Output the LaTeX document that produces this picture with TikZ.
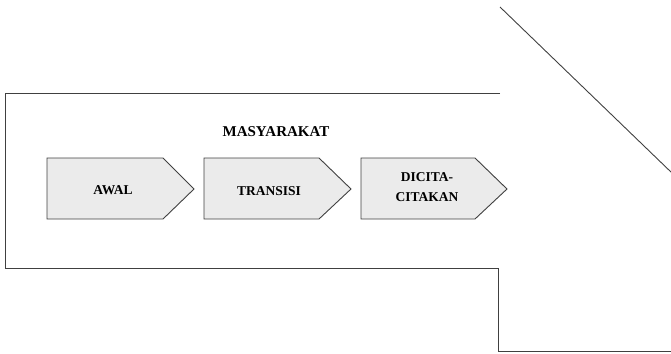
\documentclass[tikz,border=0pt]{standalone}
\usepackage{fontspec}
\setmainfont{Liberation Serif}
\begin{document}
\begin{tikzpicture}[x=1pt,y=-1pt,
  outline/.style={draw=black!75,line width=0.9pt},
  stage/.style={draw=black!75,line width=0.9pt,fill=black!8},
  label/.style={font=\bfseries\fontsize{13.5}{20}\selectfont,align=center,inner sep=0pt}]
\useasboundingbox (0,0) rectangle (671,353);
\begin{scope}
\clip (0,0) rectangle (671,353);
% large arrow frame around the community stages
\coordinate (ft) at (500,93);
\coordinate (ftl) at (5,93);
\coordinate (fbl) at (5,268);
\coordinate (fb) at (498,268);
\coordinate (fs) at (498,351);
\coordinate (fe) at (672,351);
\coordinate (hd1) at (500,7);
\coordinate (hd2) at (672,173);
\draw[outline] (ft) -- (ftl) -- (fbl) -- (fb) -- (fs) -- (fe);
\draw[outline] (hd1) -- (hd2);
\end{scope}
% stage arrows
\draw[stage] (47,158) -- (163,158) -- (194,189) -- (163,219) -- (47,219) -- cycle;
\draw[stage] (204,158) -- (319,158) -- (351,189) -- (319,219) -- (204,219) -- cycle;
\draw[stage] (361,158) -- (475,158) -- (507,189) -- (475,219) -- (361,219) -- cycle;
\node[label,font=\bfseries\fontsize{15}{18}\selectfont] (title) at (276,132) {MASYARAKAT};
\node[label] (awal) at (113,190) {AWAL};
\node[label] (transisi) at (269,191) {TRANSISI};
\node[label] (dicita) at (427,187) {DICITA-\\CITAKAN};
\end{tikzpicture}
\end{document}
